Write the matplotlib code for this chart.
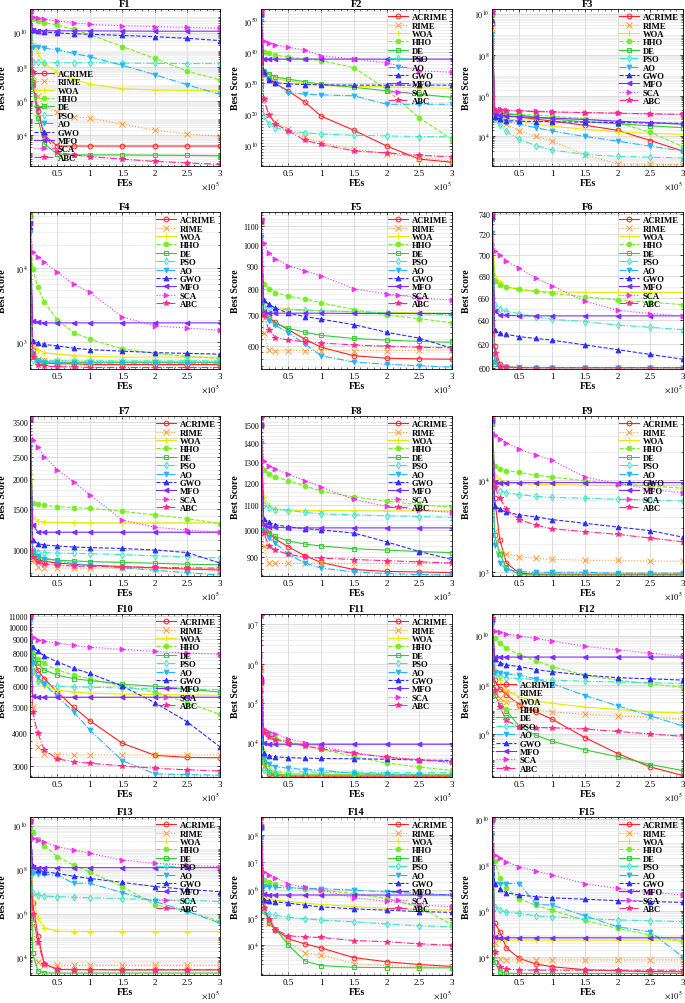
import matplotlib
matplotlib.use('Agg')
import matplotlib.pyplot as plt
from matplotlib.ticker import FixedLocator, NullFormatter, LogLocator, AutoMinorLocator
import numpy as np

plt.rcParams['font.family'] = ['Liberation Serif', 'DejaVu Serif']
plt.rcParams['mathtext.fontset'] = 'stix'

ALGOS = ['ACRIME', 'RIME', 'WOA', 'HHO', 'DE', 'PSO', 'AO', 'GWO', 'MFO', 'SCA', 'ABC']
FES = [0.08, 0.12, 0.2, 0.3, 0.5, 0.75, 1.0, 1.5, 2.0, 2.5, 3.0]  # in units of 1e5

# ---- F1 (log10 of best score) ----
F1_LOG10 = [
    [11.3, 7.1, 5.4, 4.0, 3.37, 3.37, 3.37, 3.37, 3.37, 3.37, 3.37],
    [11.3, 7.5, 6.3, 5.7, 5.35, 5.1, 5.0, 4.65, 4.3, 4.08, 3.94],
    [11.3, 9.4, 8.8, 8.2, 7.7, 7.3, 7.0, 6.72, 6.65, 6.63, 6.62],
    [11.3, 10.8, 10.7, 10.6, 10.45, 10.2, 9.9, 9.2, 8.5, 7.75, 7.25],
    [11.3, 7.0, 5.0, 3.5, 2.9, 2.85, 2.85, 2.85, 2.83, 2.82, 2.8],
    [11.3, 8.3, 8.27, 8.25, 8.25, 8.25, 8.25, 8.23, 8.22, 8.2, 8.2],
    [11.3, 9.2, 9.15, 9.1, 9.0, 8.8, 8.6, 8.1, 7.55, 6.95, 6.4],
    [11.3, 10.15, 10.1, 10.05, 10.0, 9.95, 9.92, 9.85, 9.78, 9.68, 9.55],
    [11.3, 10.15, 10.13, 10.13, 10.12, 10.12, 10.12, 10.11, 10.1, 10.1, 10.1],
    [11.3, 10.95, 10.85, 10.8, 10.7, 10.6, 10.5, 10.42, 10.37, 10.32, 10.28],
    [11.3, 7.7, 5.6, 4.0, 3.0, 2.85, 2.75, 2.6, 2.47, 2.38, 2.3],
]
F2_LOG10 = [
    [52, 33, 31.5, 30, 27.5, 24, 19.5, 15, 10, 5.8, 4.8],
    [52, 25, 20, 17.5, 15.3, 12.7, 11, 9, 7.5, 6.3, 5.2],
    [52, 34, 32.5, 31.5, 30.8, 30, 29.3, 29, 28.8, 28.6, 28.4],
    [52, 40, 39.5, 39, 38.3, 37.8, 37.2, 35, 28, 19, 12],
    [52, 34, 33, 32, 31.3, 30.5, 29.7, 28.7, 27.6, 26.5, 25.5],
    [52, 19.6, 17, 15.8, 14.8, 14.2, 13.8, 13.4, 13.2, 13.0, 12.9],
    [50, 33.5, 31, 30, 27, 26.5, 26.3, 26, 23.3, 23.3, 23.3],
    [52, 33.5, 31, 30.2, 29.8, 29.6, 29.5, 29.4, 29.4, 29.4, 29.4],
    [52, 37.8, 37.7, 37.7, 37.7, 37.7, 37.7, 37.7, 37.7, 37.7, 37.7],
    [53, 43.6, 42.8, 42.3, 41.5, 40.5, 38.8, 37.7, 36.5, 34, 33.5],
    [53, 25, 20, 17, 14.8, 11.8, 10.5, 8.4, 7.8, 7.0, 6.5],
]
F3_LOG10 = [
    [9.5, 5.16, 5.05, 5.0, 4.95, 4.85, 4.75, 4.55, 4.3, 3.8, 3.28],
    [9.3, 5.0, 4.8, 4.6, 4.26, 4.0, 3.77, 3.1, 2.65, 2.63, 2.62],
    [10.0, 5.08, 5.0, 4.9, 4.75, 4.6, 4.5, 4.35, 4.22, 4.15, 4.1],
    [10.0, 5.25, 5.2, 5.15, 5.08, 5.04, 5.0, 4.87, 4.67, 4.2, 3.5],
    [10.0, 5.2, 5.15, 5.1, 5.05, 4.95, 4.85, 4.72, 4.62, 4.52, 4.43],
    [8.7, 4.84, 4.55, 4.25, 3.85, 3.55, 3.33, 3.12, 3.02, 2.98, 2.95],
    [9.0, 4.92, 4.85, 4.75, 4.6, 4.43, 4.26, 4.0, 3.77, 3.52, 3.28],
    [9.7, 4.97, 4.85, 4.78, 4.75, 4.73, 4.72, 4.7, 4.68, 4.66, 4.64],
    [10.1, 5.1, 5.05, 5.0, 4.97, 4.93, 4.9, 4.83, 4.75, 4.68, 4.6],
    [10.2, 5.36, 5.33, 5.3, 5.27, 5.24, 5.2, 5.16, 5.13, 5.1, 5.08],
    [10.1, 5.3, 5.28, 5.26, 5.24, 5.22, 5.2, 5.17, 5.14, 5.11, 5.08],
]
F4_LOG10 = [
    [4.7, 2.9, 2.75, 2.72, 2.71, 2.71, 2.7, 2.7, 2.7, 2.7, 2.7],
    [4.7, 3.0, 2.78, 2.76, 2.75, 2.75, 2.74, 2.74, 2.74, 2.74, 2.74],
    [4.7, 2.98, 2.9, 2.86, 2.84, 2.82, 2.81, 2.8, 2.8, 2.8, 2.8],
    [4.7, 3.99, 3.74, 3.54, 3.3, 3.13, 3.04, 2.91, 2.85, 2.81, 2.78],
    [4.7, 2.85, 2.76, 2.74, 2.73, 2.73, 2.73, 2.73, 2.73, 2.73, 2.73],
    [4.6, 2.76, 2.75, 2.75, 2.75, 2.75, 2.75, 2.75, 2.75, 2.75, 2.75],
    [4.47, 2.8, 2.74, 2.72, 2.72, 2.72, 2.72, 2.72, 2.72, 2.72, 2.72],
    [4.55, 3.02, 2.99, 2.97, 2.95, 2.92, 2.9, 2.88, 2.86, 2.85, 2.84],
    [4.6, 3.29, 3.27, 3.26, 3.26, 3.26, 3.26, 3.26, 3.26, 3.26, 3.26],
    [4.75, 4.21, 4.15, 4.08, 3.94, 3.78, 3.67, 3.34, 3.22, 3.19, 3.16],
    [4.75, 2.8, 2.7, 2.68, 2.67, 2.67, 2.66, 2.66, 2.66, 2.66, 2.66],
]
F5_VAL = [
    [1130, 700, 690, 675, 650, 620, 595, 570, 563, 561, 560],
    [1120, 640, 586, 585, 585, 585, 585, 585, 585, 586, 587],
    [1130, 750, 735, 728, 722, 718, 715, 712, 710, 708, 706],
    [1130, 820, 800, 785, 770, 760, 745, 720, 700, 688, 673],
    [1130, 715, 690, 670, 655, 642, 632, 622, 617, 613, 610],
    [1130, 730, 725, 722, 720, 718, 716, 712, 708, 705, 702],
    [1040, 700, 680, 665, 640, 605, 570, 552, 546, 542, 538],
    [1130, 755, 740, 725, 707, 695, 686, 667, 642, 623, 592],
    [1130, 710, 707, 707, 707, 707, 707, 706, 706, 706, 706],
    [1140, 1010, 960, 930, 900, 875, 855, 800, 780, 765, 755],
    [1140, 700, 650, 625, 617, 612, 608, 602, 598, 595, 593],
]
F6_VAL = [
    [740, 618, 603, 600.5, 600.2, 600.1, 600.1, 600.1, 600.1, 600.1, 600.1],
    [738, 608, 601, 600.5, 600.3, 600.2, 600.2, 600.2, 600.2, 600.2, 600.2],
    [735, 680, 674, 670, 667, 666, 665.5, 665, 665, 665, 665],
    [735, 675, 672, 670, 668, 666, 664, 661, 658, 656, 654],
    [735, 603, 601, 600.5, 600.3, 600.2, 600.2, 600.2, 600.2, 600.2, 600.2],
    [735, 654, 650, 648, 646, 643, 641, 639, 636, 634, 632],
    [721, 605, 601, 600.3, 600.2, 600.2, 600.2, 600.2, 600.2, 600.2, 600.2],
    [737, 632, 629, 628, 626, 624.5, 623, 619, 615, 611, 607],
    [737, 648, 645, 644.5, 644, 644, 644, 644, 644, 644, 644],
    [741, 704, 700, 694, 687, 678, 671, 657, 649, 646, 644],
    [741, 612, 601, 600.3, 600.2, 600.2, 600.2, 600.2, 600.2, 600.2, 600.2],
]
F7_VAL = [
    [3650, 950, 910, 895, 880, 870, 862, 850, 840, 830, 822],
    [3600, 900, 850, 840, 838, 837, 836, 835, 834, 833, 832],
    [3600, 1380, 1330, 1315, 1310, 1308, 1306, 1305, 1305, 1305, 1305],
    [3600, 1590, 1570, 1550, 1530, 1515, 1505, 1460, 1410, 1360, 1296],
    [3600, 980, 940, 920, 905, 898, 893, 885, 878, 870, 865],
    [3600, 1010, 985, 975, 970, 967, 965, 955, 945, 935, 925],
    [2750, 990, 945, 920, 895, 875, 860, 840, 820, 800, 782],
    [3600, 1100, 1065, 1050, 1040, 1030, 1024, 1015, 1000, 975, 880],
    [3600, 1280, 1195, 1190, 1190, 1190, 1190, 1190, 1190, 1190, 1190],
    [3700, 2950, 2750, 2500, 2200, 1950, 1720, 1340, 1250, 1215, 1195],
    [3700, 930, 885, 870, 860, 855, 851, 847, 843, 840, 837],
]
F8_VAL = [
    [1500, 1030, 990, 965, 937, 905, 882, 858, 852, 850, 848],
    [1490, 940, 880, 879, 879, 879, 879, 879, 879, 879, 879],
    [1500, 1135, 1100, 1085, 1080, 1078, 1077, 1077, 1076, 1076, 1076],
    [1500, 1260, 1240, 1225, 1210, 1185, 1162, 1136, 1118, 1102, 1092],
    [1500, 1000, 985, 975, 958, 947, 940, 930, 925, 920, 916],
    [1400, 1100, 1088, 1082, 1078, 1070, 1064, 1060, 1056, 1053, 1050],
    [1400, 995, 970, 950, 910, 880, 863, 850, 845, 842, 840],
    [1500, 1045, 1030, 1020, 1012, 1005, 1000, 988, 955, 920, 892],
    [1500, 1020, 1012, 1010, 1008, 1008, 1008, 1008, 1008, 1008, 1008],
    [1540, 1305, 1280, 1265, 1240, 1210, 1180, 1125, 1095, 1080, 1070],
    [1540, 990, 940, 925, 910, 900, 897, 892, 888, 884, 880],
]
F9_LOG10 = [
    [4.65, 3.8, 3.35, 3.1, 2.99, 2.98, 2.98, 2.98, 2.98, 2.98, 2.98],
    [4.65, 3.45, 3.22, 3.2, 3.17, 3.15, 3.14, 3.13, 3.13, 3.12, 3.12],
    [4.6, 4.05, 4.0, 3.97, 3.96, 3.95, 3.95, 3.94, 3.94, 3.94, 3.94],
    [4.6, 4.15, 4.12, 4.1, 4.08, 4.05, 4.03, 3.99, 3.96, 3.93, 3.91],
    [4.6, 3.4, 3.2, 3.05, 2.975, 2.97, 2.97, 2.97, 2.97, 2.97, 2.97],
    [4.6, 3.92, 3.88, 3.86, 3.84, 3.82, 3.81, 3.8, 3.79, 3.78, 3.77],
    [4.5, 3.3, 3.1, 3.03, 3.01, 3.0, 3.0, 3.0, 2.99, 2.99, 2.99],
    [4.65, 3.72, 3.68, 3.65, 3.62, 3.6, 3.57, 3.53, 3.49, 3.45, 3.38],
    [4.65, 3.98, 3.97, 3.97, 3.97, 3.97, 3.97, 3.97, 3.97, 3.97, 3.97],
    [4.68, 4.48, 4.44, 4.4, 4.33, 4.27, 4.21, 4.03, 3.96, 3.9, 3.86],
    [4.68, 3.92, 3.8, 3.68, 3.57, 3.51, 3.47, 3.44, 3.41, 3.37, 3.33],
]
F10_VAL = [
    [11000, 7600, 6900, 6400, 5700, 5000, 4450, 3660, 3300, 3240, 3230],
    [11000, 5000, 3550, 3350, 3320, 3310, 3310, 3310, 3310, 3310, 3310],
    [11000, 7000, 6300, 6000, 5800, 5700, 5650, 5600, 5580, 5560, 5550],
    [11000, 8000, 7600, 7300, 6900, 6600, 6400, 6000, 5700, 5200, 4700],
    [11000, 7800, 7300, 6900, 6600, 6400, 6300, 6100, 6000, 5850, 5700],
    [10500, 6800, 6300, 6100, 6000, 5950, 5950, 5900, 5880, 5850, 5820],
    [10500, 7300, 6500, 6100, 5500, 4800, 4100, 3150, 2810, 2790, 2780],
    [11000, 8400, 8100, 7800, 7400, 7000, 6700, 6000, 5200, 4400, 3550],
    [11000, 5500, 5450, 5450, 5450, 5450, 5450, 5450, 5450, 5450, 5450],
    [11000, 9200, 8950, 8850, 8700, 8550, 8400, 8250, 8100, 8000, 7900],
    [11000, 4800, 4000, 3450, 3200, 3120, 3080, 3010, 2950, 2910, 2880],
]
F11_LOG10 = [
    [5.5, 3.6, 3.2, 3.16, 3.15, 3.15, 3.15, 3.15, 3.15, 3.15, 3.15],
    [5.5, 3.4, 3.2, 3.17, 3.16, 3.16, 3.16, 3.16, 3.16, 3.16, 3.16],
    [5.5, 3.8, 3.4, 3.25, 3.22, 3.21, 3.2, 3.2, 3.2, 3.2, 3.2],
    [5.85, 4.3, 4.2, 4.12, 4.03, 3.93, 3.83, 3.65, 3.48, 3.38, 3.3],
    [5.5, 3.5, 3.25, 3.2, 3.18, 3.18, 3.18, 3.18, 3.18, 3.18, 3.18],
    [5.1, 3.3, 3.27, 3.26, 3.26, 3.26, 3.25, 3.25, 3.24, 3.24, 3.24],
    [4.85, 3.6, 3.45, 3.39, 3.35, 3.32, 3.3, 3.22, 3.2, 3.18, 3.17],
    [5.7, 3.74, 3.67, 3.64, 3.62, 3.61, 3.6, 3.59, 3.58, 3.56, 3.55],
    [5.55, 3.98, 3.96, 3.96, 3.96, 3.96, 3.96, 3.96, 3.96, 3.96, 3.96],
    [5.3, 4.35, 4.28, 4.22, 4.1, 4.0, 3.9, 3.74, 3.64, 3.57, 3.52],
    [7.2, 4.25, 4.15, 4.08, 4.0, 3.92, 3.84, 3.73, 3.63, 3.56, 3.5],
]
F12_LOG10 = [
    [10.7, 8.2, 7.85, 7.6, 7.2, 6.9, 6.6, 5.85, 5.2, 4.65, 4.3],
    [10.7, 7.7, 7.45, 7.3, 7.1, 6.98, 6.9, 6.8, 6.74, 6.68, 6.6],
    [10.7, 8.8, 8.2, 7.8, 7.5, 7.35, 7.25, 7.1, 7.0, 6.9, 6.85],
    [10.7, 9.9, 9.7, 9.5, 9.24, 9.0, 8.75, 8.4, 8.2, 8.05, 7.9],
    [10.7, 7.6, 7.2, 6.95, 6.3, 5.95, 5.7, 5.35, 5.07, 4.75, 4.5],
    [10.5, 8.4, 8.35, 8.3, 8.26, 8.22, 8.2, 8.15, 8.12, 8.09, 8.06],
    [10.5, 8.55, 8.5, 8.45, 8.4, 8.25, 8.05, 7.57, 7.15, 6.74, 6.32],
    [10.7, 9.05, 8.9, 8.82, 8.75, 8.63, 8.54, 8.4, 8.3, 8.25, 8.2],
    [10.7, 9.15, 9.14, 9.14, 9.14, 9.14, 9.14, 9.14, 9.14, 9.14, 9.14],
    [10.75, 10.2, 10.15, 10.08, 10.0, 9.9, 9.8, 9.58, 9.44, 9.3, 9.17],
    [10.75, 7.8, 7.1, 6.55, 6.28, 6.26, 6.25, 6.2, 6.1, 6.0, 5.9],
]
F13_LOG10 = [
    [10.2, 6.5, 5.0, 3.7, 3.45, 3.44, 3.44, 3.43, 3.43, 3.43, 3.43],
    [10.2, 5.5, 3.8, 3.66, 3.64, 3.64, 3.64, 3.64, 3.64, 3.64, 3.64],
    [10.2, 6.85, 5.8, 5.35, 5.2, 5.18, 5.18, 5.18, 5.18, 5.18, 5.18],
    [10.2, 9.7, 9.4, 9.1, 8.6, 8.2, 7.9, 7.23, 6.4, 6.1, 5.65],
    [10.2, 4.2, 3.4, 3.3, 3.29, 3.29, 3.29, 3.29, 3.29, 3.29, 3.29],
    [10.0, 6.92, 6.85, 6.8, 6.77, 6.74, 6.72, 6.68, 6.63, 6.6, 6.55],
    [9.5, 7.83, 7.8, 7.78, 7.76, 7.38, 7.38, 6.95, 6.55, 6.1, 5.56],
    [10.2, 8.15, 8.0, 7.9, 7.83, 7.7, 7.6, 7.42, 7.23, 7.1, 7.0],
    [10.2, 8.1, 8.09, 8.09, 8.09, 8.09, 8.09, 8.09, 8.09, 8.09, 8.09],
    [10.2, 9.45, 9.35, 9.27, 9.05, 8.9, 8.74, 8.44, 8.29, 8.2, 8.14],
    [10.2, 6.0, 4.7, 3.7, 3.47, 3.45, 3.45, 3.45, 3.45, 3.45, 3.45],
]
F14_LOG10 = [
    [8.3, 5.6, 4.8, 4.57, 4.23, 4.05, 3.9, 3.55, 3.4, 3.3, 3.23],
    [8.3, 5.5, 4.8, 4.55, 4.1, 3.72, 3.65, 3.33, 3.26, 3.22, 3.2],
    [8.3, 5.75, 5.68, 5.63, 5.59, 5.53, 5.48, 5.4, 5.34, 5.3, 5.27],
    [8.3, 6.35, 6.28, 6.22, 6.1, 6.05, 6.0, 5.87, 5.7, 5.4, 4.74],
    [8.3, 5.25, 4.9, 4.6, 4.0, 3.43, 3.26, 3.2, 3.19, 3.18, 3.18],
    [8.2, 5.25, 5.12, 5.08, 5.02, 4.96, 4.91, 4.85, 4.77, 4.71, 4.66],
    [7.9, 6.16, 6.12, 6.1, 6.08, 6.06, 6.05, 6.0, 5.93, 5.88, 5.82],
    [8.3, 5.65, 5.6, 5.57, 5.53, 5.45, 5.39, 5.32, 5.27, 5.22, 5.19],
    [8.3, 5.85, 5.83, 5.82, 5.82, 5.82, 5.82, 5.82, 5.82, 5.82, 5.82],
    [8.4, 6.67, 6.55, 6.44, 6.22, 6.1, 6.0, 5.72, 5.59, 5.47, 5.39],
    [8.6, 5.35, 4.95, 4.57, 4.34, 4.3, 4.28, 4.17, 4.13, 4.05, 4.0],
]
F15_LOG10 = [
    [10.0, 5.5, 5.1, 4.4, 3.94, 3.7, 3.58, 3.45, 3.4, 3.37, 3.36],
    [10.0, 4.6, 3.9, 3.88, 3.87, 3.87, 3.87, 3.87, 3.87, 3.87, 3.87],
    [10.0, 4.8, 4.75, 4.74, 4.74, 4.74, 4.74, 4.74, 4.74, 4.74, 4.74],
    [10.0, 8.2, 7.45, 7.0, 6.55, 6.25, 6.04, 5.6, 5.25, 4.96, 4.67],
    [10.0, 3.8, 3.35, 3.3, 3.29, 3.29, 3.29, 3.29, 3.29, 3.29, 3.29],
    [9.9, 6.2, 6.05, 5.95, 5.9, 5.8, 5.75, 5.68, 5.62, 5.58, 5.54],
    [9.3, 7.2, 7.2, 7.2, 7.2, 6.3, 6.26, 5.8, 5.32, 5.1, 4.0],
    [10.0, 7.2, 6.95, 6.8, 6.7, 6.63, 6.58, 6.52, 6.46, 6.42, 6.38],
    [10.0, 4.86, 4.84, 4.84, 4.84, 4.84, 4.84, 4.84, 4.84, 4.84, 4.84],
    [10.0, 8.45, 8.3, 8.15, 7.93, 7.75, 7.57, 7.2, 6.99, 6.84, 6.7],
    [10.0, 4.2, 3.58, 3.47, 3.44, 3.43, 3.43, 3.43, 3.43, 3.43, 3.43],
]

# line styles: (color, linestyle, marker, filled)
STYLES = [
    ('#ff2020', '-', 'o', False),
    ('#ff9933', ':', 'x', True),
    ('#e8e800', '-', '+', True),
    ('#77ee22', '--', 'o', True),
    ('#33cc33', '-', 's', False),
    ('#33e6c4', '-.', 'd', False),
    ('#22b4ff', '-.', 'v', True),
    ('#2c2cff', '--', '^', True),
    ('#7a2cff', '-', '<', True),
    ('#f030f0', ':', '>', True),
    ('#ff2a8a', '-.', '*', True),
]


def dec(a, b, step=1):
    return [10.0 ** k for k in range(a, b + 1, step)]


# name, data, kind, ylim, major ticks, minor ticks, legend loc
PANELS = [
    ('F1', F1_LOG10, 'log10', (10 ** 2.2, 10 ** 11.4), dec(4, 10, 2), 'dec', 'lower left'),
    ('F2', F2_LOG10, 'log10', (10 ** 3.6, 10 ** 53.7), dec(10, 50, 10), 'every', 'upper right'),
    ('F3', F3_LOG10, 'log10', (10 ** 2.55, 10 ** 10.25), dec(4, 10, 2), 'dec', 'upper right'),
    ('F4', F4_LOG10, 'log10', (10 ** 2.64, 10 ** 4.75), dec(3, 4), 'dec', 'upper right'),
    ('F5', F5_VAL, 'val', (533, 1180), list(range(600, 1101, 100)), 20, 'upper right'),
    ('F6', F6_VAL, 'val', (599, 742), list(range(600, 741, 20)), 10, 'upper right'),
    ('F7', F7_VAL, 'val', (775, 3720), [1000, 1500, 2000, 2500, 3000, 3500], 100, 'upper right'),
    ('F8', F8_VAL, 'val', (837, 1553), list(range(900, 1501, 100)), 20, 'upper right'),
    ('F9', F9_LOG10, 'log10', (10 ** 2.96, 10 ** 4.69), dec(3, 4), 'dec', 'upper right'),
    ('F10', F10_VAL, 'val', (2735, 11200), list(range(3000, 11001, 1000)), 250, 'upper right'),
    ('F11', F11_LOG10, 'log10', (10 ** 3.13, 10 ** 7.26), dec(4, 7), 'dec', 'upper right'),
    ('F12', F12_LOG10, 'log10', (10 ** 4.24, 10 ** 10.9), dec(6, 10, 2), 'dec', 'lower left'),
    ('F13', F13_LOG10, 'log10', (10 ** 3.2, 10 ** 10.4), dec(4, 10, 2), 'dec', 'upper right'),
    ('F14', F14_LOG10, 'log10', (10 ** 2.92, 10 ** 8.65), dec(4, 8), 'dec', 'upper right'),
    ('F15', F15_LOG10, 'log10', (10 ** 3.22, 10 ** 10.1), dec(4, 10, 2), 'dec', 'upper right'),
]

W, H = 685, 1004
ROW_TOP = [10, 213, 417, 615, 818]
ROW_BOT = [167, 370, 577, 778, 976]
COL_L = [30, 261, 492]
COL_R = [220, 452, 683]
YLABEL_X = [7, 240, 471]  # pixel centre of "Best Score"

fig = plt.figure(figsize=(W / 100, H / 100), dpi=100)

for i, (name, data, kind, ylim, yt, minor, loc) in enumerate(PANELS):
    r, c = divmod(i, 3)
    aw = COL_R[c] - COL_L[c]
    ah = ROW_BOT[r] - ROW_TOP[r]
    ax = fig.add_axes([COL_L[c] / W, 1 - ROW_BOT[r] / H, aw / W, ah / H])
    for j, algo in enumerate(ALGOS):
        col, ls, mk, filled = STYLES[j]
        vals = np.array(data[j], dtype=float)
        y = 10 ** vals if kind == 'log10' else vals
        ax.plot(FES, y, color=col, linestyle=ls, linewidth=0.8, marker=mk,
                markersize=3.4 if mk not in ('*', '+', 'x') else 4.2,
                markerfacecolor=col if filled else 'none',
                markeredgecolor=col, markeredgewidth=0.7, label=algo)
    ax.set_yscale('log')
    ax.set_xlim(0.08, 3.0)
    ax.set_ylim(*ylim)

    ax.set_xticks([0.5, 1, 1.5, 2, 2.5, 3])
    ax.set_xticklabels(['0.5', '1', '1.5', '2', '2.5', '3'])
    ax.xaxis.set_minor_locator(AutoMinorLocator(5))

    ax.yaxis.set_major_locator(FixedLocator(yt))
    if kind == 'log10':
        ax.set_yticklabels(['$10^{%d}$' % round(np.log10(v)) for v in yt])
        if minor == 'every':
            ax.yaxis.set_minor_locator(FixedLocator(dec(4, 53)))
        else:
            ax.yaxis.set_minor_locator(LogLocator(base=10, subs=np.arange(2, 10), numticks=100))
    else:
        ax.set_yticklabels([str(v) for v in yt])
        ax.yaxis.set_minor_locator(FixedLocator(np.arange(0, 12000, minor)))
    ax.yaxis.set_minor_formatter(NullFormatter())

    ax.grid(True, which='major', color='#cfcfcf', linewidth=0.5)
    ax.grid(True, which='minor', axis='y', color='#e4e4e4', linewidth=0.4)
    ax.set_axisbelow(True)
    ax.tick_params(which='both', direction='in', top=True, right=True, pad=2)
    ax.tick_params(axis='x', labelsize=6.5)
    ax.tick_params(axis='y', labelsize=5.8, pad=1.5)
    ax.tick_params(which='major', length=2.5, width=0.5)
    ax.tick_params(which='minor', length=1.3, width=0.4)
    for s in ax.spines.values():
        s.set_linewidth(0.6)

    ax.set_title(name, fontsize=7.5, fontweight='bold', pad=2)
    ax.set_xlabel('FEs', fontsize=7, fontweight='bold', labelpad=1)
    ax.set_ylabel('Best Score', fontsize=7, fontweight='bold')
    ax.yaxis.set_label_coords((YLABEL_X[c] - COL_L[c]) / aw, 0.5)
    # x-axis multiplier, placed in pixels below the axes
    ax.text(1.0, -13.0 / ah, r'$\times10^{5}$', transform=ax.transAxes,
            ha='right', va='top', fontsize=6.2)

    ax.legend(loc=loc, frameon=False, prop={'size': 6.2, 'weight': 'bold'},
              handlelength=2.3, labelspacing=0.04, handletextpad=0.4,
              borderaxespad=0.3, borderpad=0.2)

fig.savefig('out.png', dpi=100)
